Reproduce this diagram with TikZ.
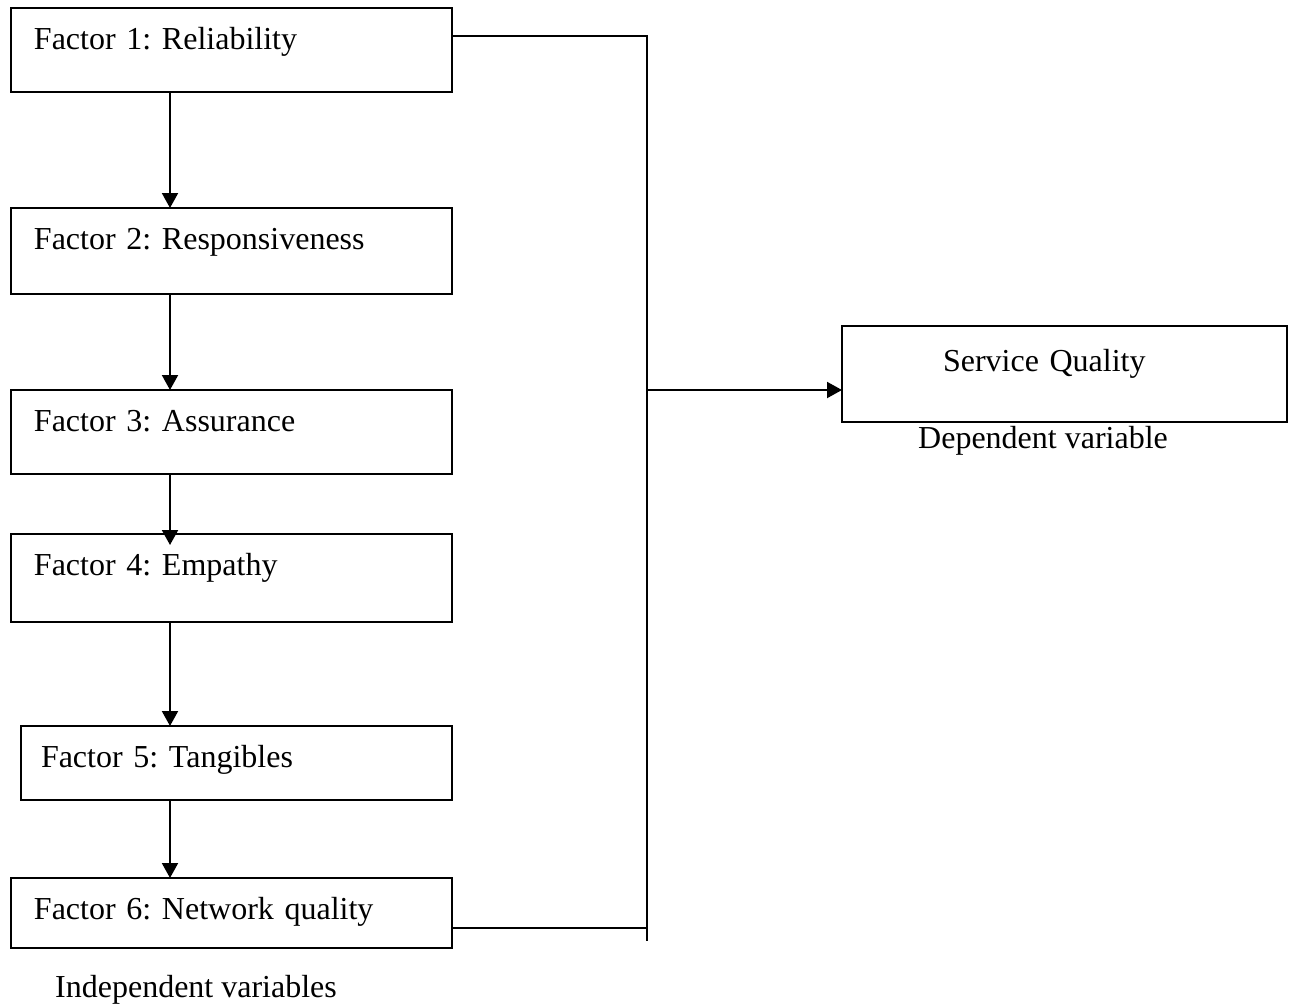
\documentclass[tikz,border=0pt]{standalone}
\usepackage{fontspec}
\setmainfont{Liberation Serif}
\usetikzlibrary{arrows.meta}
\frenchspacing
\begin{document}
\begin{tikzpicture}[x=1pt,y=-1pt,
  every node/.style={font=\fontsize{32}{38}\selectfont\frenchspacing},
  fbox/.style={draw, line width=2pt, anchor=north west, outer sep=0pt,
    inner xsep=23pt, inner ysep=10pt, text height=31pt, align=left, text width=395pt},
  conn/.style={line width=2pt},
  arr/.style={line width=2pt, -{Triangle[length=15pt,width=16pt]}},
  lbl/.style={anchor=base west, inner sep=0pt}]
\useasboundingbox (0,0) rectangle (1294,1005);

\node[fbox, text depth=33pt] (f1) at (11,8) {Factor 1: Reliability};
\node[fbox, text depth=35pt] (f2) at (11,208) {Factor 2: Responsiveness};
\node[fbox, text depth=33pt] (f3) at (11,390) {Factor 3: Assurance};
\node[fbox, text depth=37pt] (f4) at (11,534) {Factor 4: Empathy};
\node[fbox, text depth=23pt, inner xsep=20pt, text width=391pt] (f5) at (21,726) {Factor 5: Tangibles};
\node[fbox, text depth=19pt] (f6) at (11,878) {Factor 6: Network quality};

\node[fbox, inner xsep=101pt, text width=243pt, text height=35pt, text depth=41pt] (sq) at (842,326) {Service Quality};

\node[lbl] (indep) at (55,997) {Independent variables};
\node[lbl] (dep) at (918,448) {Dependent variable};

\coordinate (ax) at (170,0);
\coordinate (bustop) at (647,36);
\coordinate (busbot) at (647,941);
\coordinate (busmid) at (647,390);
\coordinate (bus6) at (647,928);

\draw[arr] (f1.south -| ax) -- (f2.north -| ax);
\draw[arr] (f2.south -| ax) -- (f3.north -| ax);
\draw[arr, shorten >=-11pt] (f3.south -| ax) -- (f4.north -| ax);
\draw[arr] (f4.south -| ax) -- (f5.north -| ax);
\draw[arr] (f5.south -| ax) -- (f6.north -| ax);

\draw[conn] (f1.east |- bustop) -- (bustop) -- (busbot);
\draw[conn] (f6.east |- bus6) -- (bus6);
\draw[arr] (busmid) -- (sq.west |- busmid);
\end{tikzpicture}
\end{document}
